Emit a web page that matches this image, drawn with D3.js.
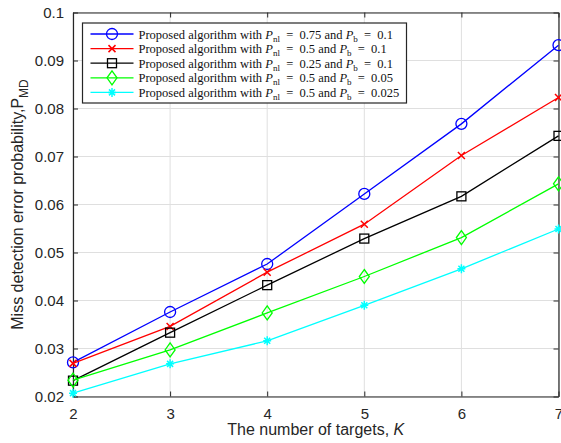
<!DOCTYPE html>
<html>
<head>
<meta charset="utf-8">
<script src="https://cdn.jsdelivr.net/npm/d3@7"></script>
<style>
  body { margin: 0; background: #fff; }
  text { font-family: "Liberation Sans", Arial, sans-serif; }
</style>
</head>
<body>
<div id="chart"></div>
<script>
// data
var targets = [2, 3, 4, 5, 6, 7];
var pnl075_pb01 = [0.0271, 0.0376, 0.0476, 0.0622, 0.0768, 0.0932];
var pnl05_pb01 = [0.0269, 0.0346, 0.0459, 0.0559, 0.0702, 0.0823];
var pnl025_pb01 = [0.0233, 0.0333, 0.0432, 0.0529, 0.0617, 0.0743];
var pnl05_pb005 = [0.0234, 0.0297, 0.0374, 0.0450, 0.0531, 0.0643];
var pnl05_pb0025 = [0.0207, 0.0268, 0.0316, 0.0390, 0.0466, 0.0549];
var yTicks = [0.02, 0.03, 0.04, 0.05, 0.06, 0.07, 0.08, 0.09, 0.1];

var series = [
  { pnl: "0.75", pb: "0.1", values: pnl075_pb01, color: "#0000ff", marker: "circle" },
  { pnl: "0.5", pb: "0.1", values: pnl05_pb01, color: "#ff0000", marker: "cross" },
  { pnl: "0.25", pb: "0.1", values: pnl025_pb01, color: "#000000", marker: "square" },
  { pnl: "0.5", pb: "0.05", values: pnl05_pb005, color: "#00ff00", marker: "diamond" },
  { pnl: "0.5", pb: "0.025", values: pnl05_pb0025, color: "#00ffff", marker: "star" }
];

var width = 561, height = 443;
var margin = { top: 12.5, right: 2.5, bottom: 46.5, left: 73 };
var w = width - margin.left - margin.right;
var h = height - margin.top - margin.bottom;

var svg = d3.select("#chart").append("svg")
  .attr("width", width)
  .attr("height", height);

var g = svg.append("g")
  .attr("transform", "translate(" + margin.left + "," + margin.top + ")");

var x = d3.scaleLinear().domain([2, 7]).range([0, w]);
var y = d3.scaleLinear().domain([0.02, 0.1]).range([h, 0]);

// grid
g.append("g").selectAll("line.gx")
  .data(targets).enter().append("line")
  .attr("x1", d => x(d)).attr("x2", d => x(d))
  .attr("y1", 0).attr("y2", h)
  .attr("stroke", "#dfdfdf").attr("stroke-width", 1);
g.append("g").selectAll("line.gy")
  .data(yTicks).enter().append("line")
  .attr("x1", 0).attr("x2", w)
  .attr("y1", d => y(d)).attr("y2", d => y(d))
  .attr("stroke", "#dfdfdf").attr("stroke-width", 1);

// axes (ticks pointing inward, MATLAB style)
var axisColor = "#262626";
var xAxis = g.append("g")
  .attr("transform", "translate(0," + h + ")")
  .call(d3.axisBottom(x).tickValues(targets).tickFormat(d3.format("d")).tickSizeInner(-5).tickSizeOuter(0).tickPadding(12));
var xTop = g.append("g")
  .call(d3.axisTop(x).tickValues(targets).tickFormat("").tickSizeInner(-5).tickSizeOuter(0));
var yAxis = g.append("g")
  .call(d3.axisLeft(y).tickValues(yTicks).tickFormat(d => d3.format("")(+d.toFixed(2))).tickSizeInner(-5).tickSizeOuter(0).tickPadding(9));
var yRight = g.append("g")
  .attr("transform", "translate(" + w + ",0)")
  .call(d3.axisRight(y).tickValues(yTicks).tickFormat("").tickSizeInner(-5).tickSizeOuter(0));

[xAxis, xTop, yAxis, yRight].forEach(function(a) {
  a.select(".domain").attr("stroke", axisColor).attr("stroke-width", 1.2);
  a.selectAll(".tick line").attr("stroke", axisColor);
  a.selectAll(".tick text")
    .attr("fill", axisColor)
    .style("font-size", "15px")
    .style("font-family", "'Liberation Sans', Arial, sans-serif");
});

// marker drawing
function drawMarker(sel, type, color) {
  if (type === "circle") {
    sel.append("circle").attr("r", 5.5)
      .attr("fill", "none").attr("stroke", color).attr("stroke-width", 1.3);
  } else if (type === "cross") {
    sel.append("path").attr("d", "M-3.5,-3.5L3.5,3.5M-3.5,3.5L3.5,-3.5")
      .attr("stroke", color).attr("stroke-width", 1.5);
  } else if (type === "square") {
    sel.append("rect").attr("x", -4.5).attr("y", -4.5).attr("width", 9).attr("height", 9)
      .attr("fill", "none").attr("stroke", color).attr("stroke-width", 1.3);
  } else if (type === "diamond") {
    sel.append("path").attr("d", "M0,-7L5,0L0,7L-5,0Z")
      .attr("fill", "none").attr("stroke", color).attr("stroke-width", 1.3);
  } else if (type === "star") {
    sel.append("path").attr("d", "M-4,0L4,0M0,-4.5L0,4.5M-3,-3L3,3M-3,3L3,-3")
      .attr("stroke", color).attr("stroke-width", 1.5);
  }
}

var line = d3.line()
  .x((d, i) => x(targets[i]))
  .y(d => y(d));

series.forEach(function(s) {
  g.append("path")
    .datum(s.values)
    .attr("d", line)
    .attr("fill", "none")
    .attr("stroke", s.color)
    .attr("stroke-width", 1.3);
  g.selectAll(null)
    .data(s.values).enter().append("g")
    .attr("transform", (d, i) => "translate(" + x(targets[i]) + "," + y(d) + ")")
    .each(function() { drawMarker(d3.select(this), s.marker, s.color); });
});

// legend
var legend = g.append("g").attr("transform", "translate(9.5,10.5)");
legend.append("rect")
  .attr("width", 324).attr("height", 80)
  .attr("fill", "#fff").attr("stroke", axisColor).attr("stroke-width", 1.2);

series.forEach(function(s, i) {
  var row = legend.append("g").attr("transform", "translate(0," + (11 + i * 14.6) + ")");
  row.append("line").attr("x1", 8).attr("x2", 51).attr("y1", 0).attr("y2", 0)
    .attr("stroke", s.color).attr("stroke-width", 1.3);
  var m = row.append("g").attr("transform", "translate(29.5,0)");
  drawMarker(m, s.marker, s.color);
  var t = row.append("text")
    .attr("x", 56).attr("y", 4.5)
    .attr("fill", "#111")
    .style("font-family", "'Liberation Serif', 'DejaVu Serif', serif")
    .style("font-size", "12.5px")
    .style("white-space", "pre");
  t.append("tspan").text("Proposed algorithm with ");
  t.append("tspan").style("font-style", "italic").text("P");
  t.append("tspan").attr("dy", 3).style("font-size", "9px").text("nl");
  t.append("tspan").attr("dy", -3).text("\u2002=\u2002" + s.pnl + " and ");
  t.append("tspan").style("font-style", "italic").text("P");
  t.append("tspan").attr("dy", 3).style("font-size", "9px").text("b");
  t.append("tspan").attr("dy", -3).text("\u2002=\u2002" + s.pb);
});

// axis titles
svg.append("text")
  .attr("x", margin.left + w / 2)
  .attr("y", 435)
  .attr("text-anchor", "middle")
  .attr("fill", axisColor)
  .style("font-size", "16px")
  .call(function(t) {
    t.append("tspan").text("The number of targets, ");
    t.append("tspan").style("font-style", "italic").text("K");
  });

var yl = svg.append("text")
  .attr("transform", "translate(23," + (margin.top + h / 2) + ") rotate(-90)")
  .attr("text-anchor", "middle")
  .attr("fill", axisColor)
  .style("font-size", "16px");
yl.append("tspan").text("Miss detection error probability,P");
yl.append("tspan").attr("dy", 5).style("font-size", "12px").text("MD");
</script>
</body>
</html>
